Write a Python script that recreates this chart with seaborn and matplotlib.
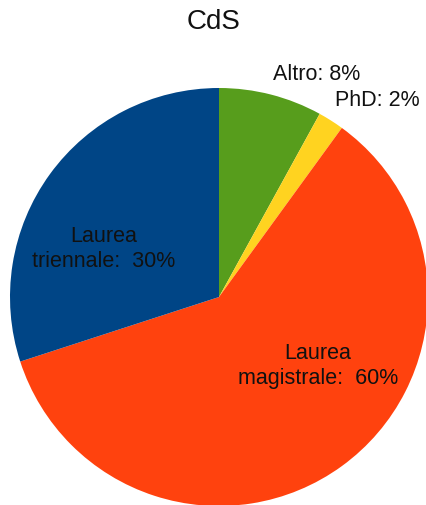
import matplotlib
matplotlib.use("Agg")
import matplotlib.pyplot as plt
import seaborn as sns

# chart data
categories = ["Altro", "PhD", "Laurea magistrale", "Laurea triennale"]
shares = [8, 2, 60, 30]
label_texts = ["Altro: 8%", "PhD: 2%", "Laurea\nmagistrale:  60%", "Laurea\ntriennale:  30%"]
colors = sns.color_palette(["#579d1c", "#ffd320", "#ff420e", "#004586"])

sns.set_style("white")
plt.rcParams["font.family"] = ["Liberation Sans", "DejaVu Sans"]

W, H = 427, 505
cx, cy, R = 219, 297, 209  # pie centre / radius in pixels

fig = plt.figure(figsize=(W / 100, H / 100), dpi=100)
ax = fig.add_axes([0, 0, 1, 1])
ax.pie(shares, colors=colors, startangle=90, counterclock=False,
       radius=1, center=(0, 0), wedgeprops={"linewidth": 0})
ax.set_xlim(-cx / R, (W - cx) / R)
ax.set_ylim(-(H - cy) / R, cy / R)
ax.set_aspect("auto")
ax.axis("off")

# label anchors in pixel positions (layout only)
label_pos = [(317, 75), (377, 100), (318, 366), (104, 249)]
for txt, (px, py) in zip(label_texts, label_pos):
    fig.text(px / W, 1 - py / H, txt, ha="center", va="center",
             fontsize=15.5, color="#111111", linespacing=1.25)

fig.text(214 / W, 1 - 22 / H, "CdS", ha="center", va="center", fontsize=20, color="#111111")

fig.savefig("out.png", dpi=100)
